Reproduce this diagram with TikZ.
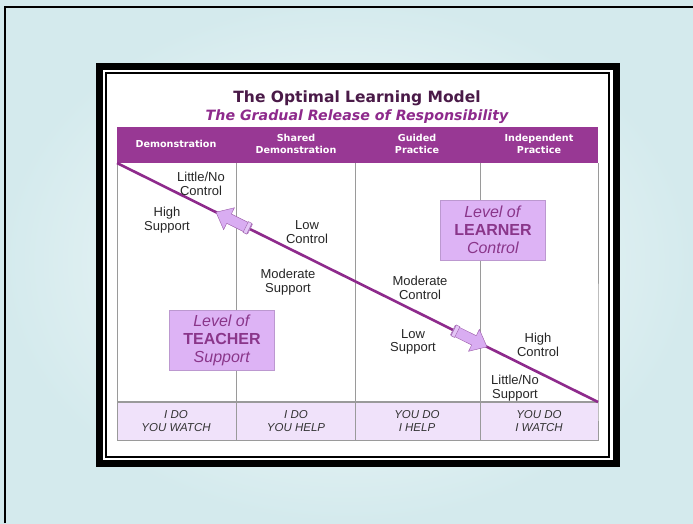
\documentclass[tikz,border=0pt]{standalone}
\usepackage{fontspec}
\setmainfont{Liberation Sans}
\newfontfamily\dejavu{DejaVu Sans}
\usetikzlibrary{calc}
\usetikzlibrary{shapes.arrows}
\usepackage{xcolor}

\definecolor{slideedge}{HTML}{D4EAED}
\definecolor{slidecentre}{HTML}{F8FCFC}
\definecolor{headpurple}{HTML}{983894}
\definecolor{linepurple}{HTML}{8E2A8C}
\definecolor{titlepurple}{HTML}{4A1A48}
\definecolor{subpurple}{HTML}{8E2A8C}
\definecolor{boxfill}{HTML}{DDB3F5}
\definecolor{boxtext}{HTML}{8A368A}
\definecolor{footfill}{HTML}{F0E2FA}
\definecolor{arrowfill}{HTML}{D9ADF2}
\definecolor{arrowline}{HTML}{9A5AA8}
\definecolor{gridgray}{HTML}{9A9A9A}

\tikzset{
    cell/.style={align=center, text=black!85, font=\fontsize{13}{13.5}\selectfont},
    headcell/.style={align=center, text=white, font=\dejavu\bfseries\fontsize{9.6}{12}\selectfont},
    footcell/.style={align=center, text=black!80, font=\itshape\fontsize{11.5}{13}\selectfont},
    levelbox/.style={fill=boxfill, draw=boxfill!85!black, align=center, text=boxtext,
        minimum width=105, minimum height=60, inner sep=0pt, font=\fontsize{16}{18}\selectfont},
    shiftarrow/.style={single arrow, draw=arrowline, fill=arrowfill, inner sep=5pt,
        minimum height=38, single arrow head extend=7, single arrow tip angle=80},
    tailcap/.style={draw=arrowline, fill=arrowfill!70!white, minimum width=4, minimum height=12, inner sep=0pt}
}

\begin{document}
\begin{tikzpicture}[x=1pt,y=-1pt]
        \useasboundingbox (0,0) rectangle (693,523);

        % slide background
        \shade[inner color=slidecentre, outer color=slideedge] (0,0) rectangle (693,523);
        \draw[line width=2, black] (5,523) -- (5,7) -- (693,7);

        % picture frame
        \fill[black] (96,63) rectangle (620,467);
        \fill[white] (103,70) rectangle (613,460);
        \draw[line width=1.5, black] (106,73) rectangle (609,457);

        % table corners
        \coordinate (HT) at (117,127);
        \coordinate (A) at (117,163);
        \coordinate (B) at (598,163);
        \coordinate (C) at (117,402);
        \coordinate (D) at (598,402);
        \coordinate (E) at (117,440);
        \coordinate (F) at (598,440);

        % title
        \node[text=titlepurple, font=\dejavu\bfseries\fontsize{15.5}{17}\selectfont] (title) at (357,98) {The Optimal Learning Model};
        \node[text=subpurple, font=\dejavu\bfseries\itshape\fontsize{14.2}{16}\selectfont] (subtitle) at (357,117) {The Gradual Release of Responsibility};

        % header and footer rows
        \fill[headpurple] (HT) rectangle (B);
        \fill[footfill] (C) rectangle (F);
        \draw[gridgray, line width=0.8] (A) -- (E) -- (F) -- (D) -- (B);
        \draw[gridgray, line width=1.2] (C) -- (D);
        \foreach \x in {236,355,480}
            \draw[gridgray, line width=0.8] (\x,163) -- (\x,440);

        \node[headcell] (demo) at (176,144) {Demonstration};
        \node[headcell] (shared) at (296,144) {Shared\\Demonstration};
        \node[headcell] (guided) at (417,144) {Guided\\Practice};
        \node[headcell] (indep) at (539,144) {Independent\\Practice};

        \node[footcell] (idowatch) at (176,421) {I DO\\YOU WATCH};
        \node[footcell] (idohelp) at (296,421) {I DO\\YOU HELP};
        \node[footcell] (youdohelp) at (417,421) {YOU DO\\I HELP};
        \node[footcell] (youdowatch) at (539,421) {YOU DO\\I WATCH};

        % level boxes
        \node[levelbox] (teacher) at (222,340) {\textit{Level of}\\\textbf{TEACHER}\\\textit{Support}};
        \node[levelbox] (learner) at (493,230) {\textit{Level of}\\\textbf{LEARNER}\\\textit{Control}};

        % diagonal
        \draw[linepurple, line width=2.6] (A) -- (D);

        % arrows on the diagonal
        \node[shiftarrow, rotate=153.6] (arrowL) at ($(A)!0.247!(D)$) {};
        \node[tailcap, rotate=153.6] (capL) at ($(arrowL.tail)!3pt!(arrowL.tip)$) {};
        \node[shiftarrow, rotate=-26.4] (arrowR) at ($(A)!0.728!(D)$) {};
        \node[tailcap, rotate=-26.4] (capR) at ($(arrowR.tail)!3pt!(arrowR.tip)$) {};

        % labels
        \node[cell] (lowctl1) at (201,184) {Little/No\\Control};
        \node[cell] (highsup) at (167,220) {High\\Support};
        \node[cell] (lowctl) at (307,232) {Low\\Control};
        \node[cell] (modsup) at (288,282) {Moderate\\Support};
        \node[cell] (modctl) at (420,288) {Moderate\\Control};
        \node[cell] (lowsup) at (413,342) {Low\\Support};
        \node[cell] (highctl) at (538,345) {High\\Control};
        \node[cell] (nosup) at (515,388) {Little/No\\Support};
    \end{tikzpicture}
\end{document}
